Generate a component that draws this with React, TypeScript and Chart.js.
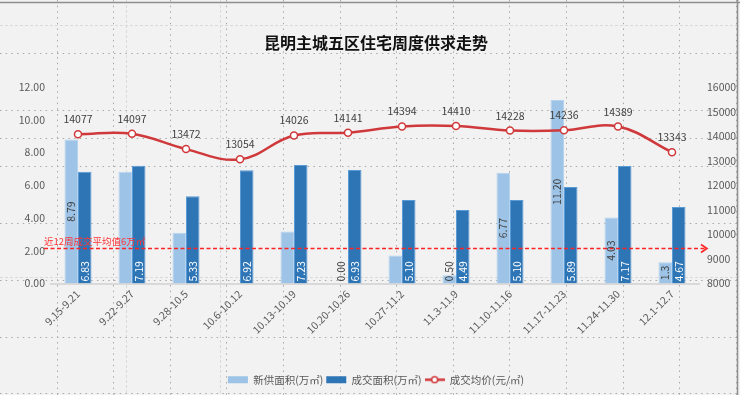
import { useEffect, useRef } from "react";
import { Chart, registerables } from "chart.js";

Chart.register(...registerables);

const FONT = '"Noto Sans CJK SC", "Noto Sans", sans-serif';

// ---------- data ----------
const chartTitle = "昆明主城五区住宅周度供求走势";
const weeks = [
  "9.15-9.21", "9.22-9.27", "9.28-10.5", "10.6-10.12", "10.13-10.19", "10.20-10.26",
  "10.27-11.2", "11.3-11.9", "11.10-11.16", "11.17-11.23", "11.24-11.30", "12.1-12.7",
];
const supplyName = "新供面积(万㎡)";
const dealName = "成交面积(万㎡)";
const priceName = "成交均价(元/㎡)";
const newSupply: (number | null)[] = [8.79, 6.82, 3.1, null, 3.18, 0, 1.71, 0.5, 6.77, 11.2, 4.03, 1.3];
const newSupplyLabels: (string | null)[] = ["8.79", null, null, null, null, "0.00", null, "0.50", "6.77", "11.20", "4.03", "1.3"];
const dealArea = [6.83, 7.19, 5.33, 6.92, 7.23, 6.93, 5.1, 4.49, 5.1, 5.89, 7.17, 4.67];
const avgPrice = [14077, 14097, 13472, 13054, 14026, 14141, 14394, 14410, 14228, 14236, 14389, 13343];
const areaAxis = { min: 0, max: 12, step: 2 };
const priceAxis = { min: 8000, max: 16000, step: 1000 };
const avgLineLevel = 2.15; // on the area axis, as drawn in the picture
const avgLineText = "近12周成交平均值6万㎡";

// ---------- colours ----------
const LIGHT = "#9dc3e6";
const DARK = "#2e75b6";
const RED = "#d0393b";

const sheetBackground = {
  id: "sheetBackground",
  beforeDraw(chart: any) {
    const { ctx, width, height } = chart;
    ctx.save();
    ctx.fillStyle = "#f2f2f2";
    ctx.fillRect(0, 0, width, height);
    // light dashed lines
    ctx.strokeStyle = "#dadada";
    ctx.lineWidth = 1;
    ctx.setLineDash([3, 2]);
    ctx.beginPath();
    for (const y of [25, 277]) { ctx.moveTo(0, y + 0.5); ctx.lineTo(width, y + 0.5); }
    for (const x of [126, 220]) { ctx.moveTo(x + 0.5, 0); ctx.lineTo(x + 0.5, height); }
    ctx.stroke();
    // dotted sheet grid
    ctx.strokeStyle = "#a9a9a9";
    ctx.setLineDash([1.5, 4.2]);
    ctx.beginPath();
    for (let x = 56.6; x < width; x += 56.6) { ctx.moveTo(Math.round(x) + 0.5, 0); ctx.lineTo(Math.round(x) + 0.5, height); }
    for (let y = 53; y < height; y += 56.7) { ctx.moveTo(0, Math.round(y) + 0.5); ctx.lineTo(width, Math.round(y) + 0.5); }
    ctx.moveTo(0, 138.5); ctx.lineTo(width, 138.5);
    ctx.stroke();
    ctx.setLineDash([]);
    // window frame
    ctx.strokeStyle = "#8f8f8f";
    ctx.lineWidth = 1.5;
    ctx.beginPath();
    ctx.moveTo(0, 2.5); ctx.lineTo(width, 2.5);
    ctx.moveTo(737.5, 0); ctx.lineTo(737.5, height);
    ctx.stroke();
    ctx.restore();
  },
};

const valueLabels = {
  id: "valueLabels",
  afterDatasetsDraw(chart: any) {
    const ctx = chart.ctx;
    const ys = chart.scales.y;
    const area = chart.chartArea;
    ctx.save();

    // average reference line with arrow
    const yy = Math.round(ys.getPixelForValue(avgLineLevel)) + 0.5;
    const x0 = area.left - 7;
    const x1 = area.right + 8;
    ctx.strokeStyle = "#ff2424";
    ctx.lineWidth = 1.6;
    ctx.setLineDash([4, 2.5]);
    ctx.beginPath();
    ctx.moveTo(x0, yy);
    ctx.lineTo(x1 - 1, yy);
    ctx.stroke();
    ctx.setLineDash([]);
    ctx.beginPath();
    ctx.moveTo(x1 - 6, yy - 4);
    ctx.lineTo(x1, yy);
    ctx.lineTo(x1 - 6, yy + 4);
    ctx.stroke();
    ctx.fillStyle = "#ff3535";
    ctx.font = `9.5px ${FONT}`;
    ctx.textAlign = "left";
    ctx.textBaseline = "alphabetic";
    ctx.fillText(avgLineText, x0, yy - 4);

    ctx.font = `10.5px ${FONT}`;
    ctx.textBaseline = "middle";

    // new supply labels (centred, rotated)
    const m0 = chart.getDatasetMeta(0);
    m0.data.forEach((bar: any, i: number) => {
      const txt = newSupplyLabels[i];
      if (!txt || newSupply[i] === null) return;
      const { x, y, base } = bar.getProps(["x", "y", "base"], true);
      const w = ctx.measureText(txt).width;
      const cy = Math.min((y + base) / 2, base - 2 - w / 2);
      ctx.save();
      ctx.translate(x, cy);
      ctx.rotate(-Math.PI / 2);
      ctx.textAlign = "center";
      ctx.fillStyle = "#404040";
      ctx.fillText(txt, 0, 0);
      ctx.restore();
    });

    // deal area labels (inside base, white)
    const m1 = chart.getDatasetMeta(1);
    m1.data.forEach((bar: any, i: number) => {
      const { x, base } = bar.getProps(["x", "base"], true);
      ctx.save();
      ctx.translate(x, base - 2);
      ctx.rotate(-Math.PI / 2);
      ctx.textAlign = "left";
      ctx.fillStyle = "#ffffff";
      ctx.fillText(dealArea[i].toFixed(2), 0, 0);
      ctx.restore();
    });

    // price labels
    const m2 = chart.getDatasetMeta(2);
    ctx.textAlign = "center";
    ctx.fillStyle = "#404040";
    m2.data.forEach((pt: any, i: number) => {
      const { x, y } = pt.getProps(["x", "y"], true);
      ctx.fillText(String(avgPrice[i]), x, y - 15);
    });
    ctx.restore();
  },
};

function makeLineIcon(): HTMLCanvasElement {
  const c = document.createElement("canvas");
  c.width = 20;
  c.height = 9;
  const g = c.getContext("2d")!;
  g.strokeStyle = RED;
  g.lineWidth = 2.5;
  g.beginPath();
  g.moveTo(0, 4.5);
  g.lineTo(20, 4.5);
  g.stroke();
  g.beginPath();
  g.arc(10, 4.5, 3, 0, Math.PI * 2);
  g.fillStyle = "#ffffff";
  g.fill();
  g.lineWidth = 1.5;
  g.stroke();
  return c;
}

export default function App() {
  const ref = useRef<HTMLCanvasElement | null>(null);

  useEffect(() => {
    if (!ref.current) return;
    const lineIcon = makeLineIcon();
    const tickFont = { family: FONT, size: 10.5 };
    const legendColors = [LIGHT, DARK];
    const chart = new Chart(ref.current, {
      type: "bar",
      data: {
        labels: weeks,
        datasets: [
          {
            type: "bar",
            label: supplyName,
            data: newSupply,
            backgroundColor: LIGHT,
            borderColor: "#b5d3ef",
            borderWidth: 1,
            yAxisID: "y",
            categoryPercentage: 0.5,
            barPercentage: 1,
            order: 2,
          },
          {
            type: "bar",
            label: dealName,
            data: dealArea,
            backgroundColor: DARK,
            borderColor: "#5b9bd5",
            borderWidth: 1,
            yAxisID: "y",
            categoryPercentage: 0.5,
            barPercentage: 1,
            order: 2,
          },
          {
            type: "line",
            label: priceName,
            data: avgPrice,
            borderColor: RED,
            backgroundColor: RED,
            borderWidth: 2.5,
            tension: 0.4,
            pointRadius: 3.5,
            pointBackgroundColor: "#ffffff",
            pointBorderColor: RED,
            pointBorderWidth: 1.5,
            yAxisID: "y1",
            order: 1,
          } as any,
        ],
      },
      options: {
        responsive: false,
        animation: false,
        devicePixelRatio: 1,
        layout: { padding: { left: 12, right: 0, top: 0, bottom: 0 } },
        scales: {
          x: {
            offset: true,
            grid: { display: false, drawTicks: false },
            border: { display: true, color: "#d9d9d9", width: 2 },
            ticks: {
              color: "#595959",
              font: tickFont,
              minRotation: 45,
              maxRotation: 45,
              autoSkip: false,
              padding: 4,
            },
            afterFit: (s: any) => { s.height = 88; },
          },
          y: {
            position: "left",
            min: areaAxis.min,
            max: areaAxis.max,
            grid: { display: false, drawTicks: false },
            border: { display: false },
            ticks: {
              stepSize: areaAxis.step,
              color: "#595959",
              font: tickFont,
              padding: 6,
              callback: (v: any) => Number(v).toFixed(2),
            },
            afterFit: (s: any) => { s.width = 39; },
          },
          y1: {
            position: "right",
            min: priceAxis.min,
            max: priceAxis.max,
            grid: { display: false, drawTicks: false },
            border: { display: false },
            ticks: {
              stepSize: priceAxis.step,
              color: "#595959",
              font: tickFont,
              padding: 8,
              callback: (v: any) => String(v),
            },
            afterFit: (s: any) => { s.width = 41; },
          },
        },
        plugins: {
          title: {
            display: true,
            text: chartTitle,
            color: "#111111",
            font: { family: FONT, size: 16, weight: "bold", lineHeight: 1.2 },
            padding: { top: 33.4, bottom: 34.4 },
          },
          legend: {
            display: true,
            position: "bottom",
            labels: {
              color: "#595959",
              font: { family: FONT, size: 10.5 },
              usePointStyle: true,
              pointStyleWidth: 20,
              boxWidth: 20,
              boxHeight: 7,
              padding: 3,
              sort: (a: any, b: any) => a.datasetIndex - b.datasetIndex,
              generateLabels: (c: any) => {
                const items = (Chart.defaults.plugins.legend.labels as any).generateLabels(c);
                items.forEach((it: any) => {
                  if (it.datasetIndex < 2) {
                    it.pointStyle = "rect";
                    it.lineWidth = 0;
                    it.fillStyle = legendColors[it.datasetIndex];
                    it.strokeStyle = legendColors[it.datasetIndex];
                  } else {
                    it.pointStyle = lineIcon;
                  }
                });
                return items;
              },
            },
          },
          tooltip: { enabled: false },
        },
      },
      plugins: [sheetBackground, valueLabels],
    });
    return () => chart.destroy();
  }, []);

  return (
    <div style={{ position: "fixed", left: 0, top: 0, width: 740, height: 395 }}>
      <canvas ref={ref} width={740} height={395} style={{ display: "block" }} />
    </div>
  );
}
